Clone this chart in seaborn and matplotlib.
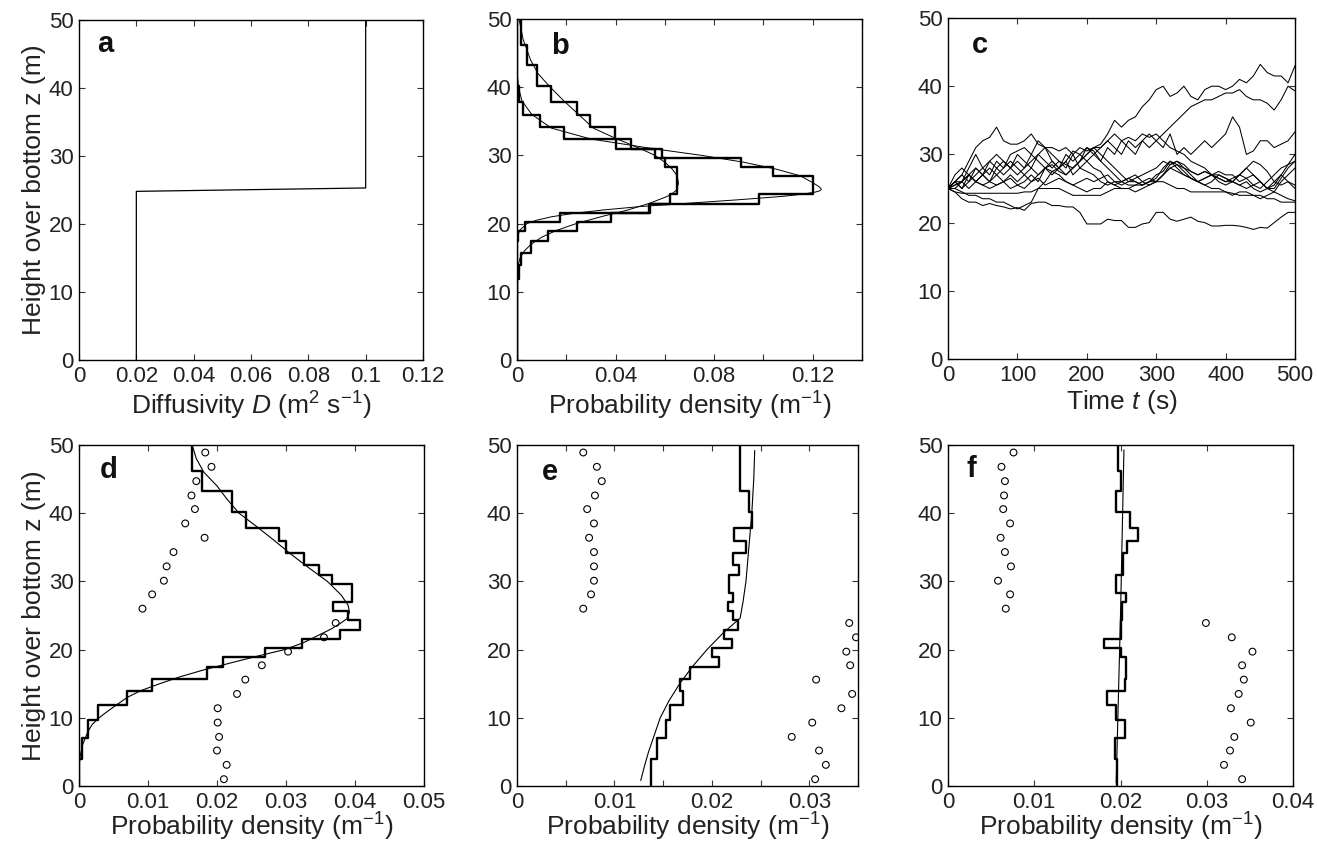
import numpy as np
import pandas as pd
import seaborn as sns
import matplotlib
matplotlib.use('Agg')
import matplotlib.pyplot as plt
from matplotlib.ticker import FuncFormatter, MultipleLocator

# ---------------- data ----------------
# panel a: diffusivity profile
diff_D = [0.02, 0.02, 0.1, 0.1]
diff_z = [0.0, 24.8, 25.3, 50.0]

# histogram bin edges (m), shared by b, d, e, f
hist_edges = [0, 4.0, 7.0, 9.7, 11.9, 13.9, 15.7, 17.4, 18.9, 20.2, 21.6, 22.9, 24.3,
              25.6, 27.0, 28.3, 29.6, 31.0, 32.4, 34.1, 35.9, 37.9, 40.2, 43.2, 46.2, 50]

# panel b: two histograms + model curves
b_hist_narrow = [0, 0, 0, 0, 0, 0, 0, 0.0005, 0.0034, 0.0173, 0.054, 0.0983, 0.12,
                 0.12, 0.104, 0.091, 0.059, 0.040, 0.019, 0.0092, 0.0024, 0.0007, 0.0002, 0, 0]
b_hist_broad = [0, 0, 0, 0.0002, 0.0007, 0.0018, 0.0055, 0.0126, 0.0244, 0.038, 0.0537, 0.062,
                0.065, 0.065, 0.065, 0.060, 0.056, 0.0464, 0.0396, 0.0295, 0.0245, 0.0137,
                0.0083, 0.0042, 0.0017]
b_curve_narrow_z = [0, 16, 18, 19, 20, 20.5, 21, 21.5, 22, 22.5, 23, 23.5, 24, 24.3, 24.6,
                    24.8, 25.0, 25.2, 25.5, 26, 27, 28, 29, 30, 31, 32.4, 34, 36, 38, 40, 42, 50]
b_curve_narrow_x = [0, 0, 0.0003, 0.001, 0.004, 0.008, 0.014, 0.023, 0.035, 0.05, 0.07, 0.09,
                    0.108, 0.1155, 0.1208, 0.1228, 0.1235, 0.1232, 0.1222, 0.120, 0.115, 0.105,
                    0.092, 0.075, 0.055, 0.03, 0.014, 0.006, 0.002, 0.0006, 0.0001, 0]
b_curve_broad_z = [0, 10, 12, 14, 15, 16, 17, 18, 19, 20, 21, 22, 23, 24, 24.4, 25, 26, 27, 28,
                   29, 30, 31, 32.5, 34, 36, 38, 40, 42, 44, 47, 50]
b_curve_broad_x = [0, 0, 0.0001, 0.0005, 0.0013, 0.003, 0.0058, 0.010, 0.016, 0.024, 0.034,
                   0.045, 0.054, 0.061, 0.063, 0.065, 0.0655, 0.065, 0.063, 0.060, 0.056, 0.050,
                   0.040, 0.031, 0.025, 0.019, 0.0135, 0.0085, 0.0055, 0.0025, 0.0008]

# panel c: particle trajectories, height (m) every 10 s
time_s = list(range(0, 501, 10))
traj = {
    1: [25, 25.5, 26, 27, 26, 27, 28, 27, 26, 27, 26, 27, 28, 27, 28, 29, 28, 27, 28, 29, 30,
        31, 31.5, 33, 35, 34, 35, 35.5, 37, 38, 39.5,
        40, 38.5, 39, 40, 38.5, 38, 39.5, 40, 40, 39.5,
        40, 41, 40.5, 41.5, 43.2, 42, 41.5, 41.5, 40.5, 43],
    2: [25, 26, 27, 26, 28, 27, 29, 28, 27, 28, 29, 28, 30, 29, 28, 27, 28, 29, 27, 28, 29,
        30, 29, 31, 30, 32, 31, 30, 32, 31, 32,
        33, 34, 35, 36, 37, 37.5, 38, 38, 38.5, 39,
        39, 39.5, 38.5, 38, 38, 37.5, 36.5, 38, 40, 39.3],
    3: [25, 26, 25, 27, 28, 27, 26, 28, 29, 28, 30, 29, 28, 30, 31, 29, 28, 30, 29, 30, 31,
        30, 31, 32, 31, 30, 32, 31, 32, 33, 32,
        31, 33, 30, 31, 30, 31, 32, 31, 32, 33,
        35.5, 34, 30, 30.5, 32, 32, 31, 31.5, 32, 33.3],
    4: [25, 24.5, 23.5, 23, 23, 22.5, 22.8, 22.5, 22.3, 22, 22.2, 21.8, 22.8, 23, 23, 22.5,
        22.5, 22.3, 22.3, 21.5, 19.8,
        19.8, 19.8, 20.5, 20.3, 20.3, 19.3, 19.3, 19.8, 20, 21.5,
        21.5, 20.5, 20.2, 20.5, 20.8, 20.2, 20, 19.5, 19.5, 19.6,
        19.6, 19.5, 19.3, 19, 19.3, 19.2, 20, 20.8, 21.5, 21.5],
    5: [25, 24.5, 24.3, 24.3, 24.3, 24.3, 24.3, 24.3, 24.3, 24.3, 24.3, 24.5, 24.5, 25, 25, 25,
        25, 24.5, 24, 24, 24,
        24, 24, 24.5, 25, 25, 25, 25.5, 25.5, 26, 26,
        26, 25.5, 25, 25, 24.5, 24.5, 24.5, 24.5, 24.5, 24.5,
        24.3, 24, 24, 24, 24, 23.5, 23.5, 23, 23, 23],
    6: [25, 26, 27, 29, 31, 32, 32.5, 34, 32, 31.5, 31.5, 32, 33, 31.5, 31, 31, 30.5, 31, 30,
        28, 27.5,
        27, 26, 25.5, 26, 26, 25.5, 25.5, 26, 26.5, 26,
        27, 28, 27.5, 27, 26.5, 26, 26.5, 27, 27, 26.5,
        26, 27, 26.5, 25.5, 25, 26, 27, 28, 28.5, 30],
    7: [25, 26, 26, 28, 30, 28, 27, 29, 28, 30, 30.5, 31, 30, 32, 31, 30, 29, 28, 30, 31, 30.5,
        31, 31, 32, 33, 32, 32.5, 32, 33, 32.5, 33,
        32, 31, 30.5, 30, 29, 28.5, 28, 27, 27.5, 27,
        27, 26, 26.5, 27, 26, 25, 25.5, 27, 28.5, 29],
    8: [25, 25.5, 26, 25, 26, 27, 26, 25.5, 26, 25, 25.5, 26, 27, 26, 28, 27.5, 27, 26, 25.5,
        25, 24.5,
        25, 25, 26, 25.5, 26, 26.5, 27, 26, 25.5, 26,
        27, 28, 28.5, 28, 27, 26, 26.5, 27, 26, 25.5,
        26, 27, 28, 27, 26, 25, 24.5, 26, 27, 28],
    9: [25, 27, 28, 27, 26, 25.5, 26, 27, 28, 29, 28, 27, 26, 27, 28, 28.5, 27.5, 27, 28, 29, 31,
        30.5, 29, 28, 27, 26, 26.5, 26, 25.5, 26, 26.5,
        28, 29, 28.5, 27.5, 26.5, 26, 25.5, 25, 25, 24.5,
        24, 24.5, 24.5, 24, 23.5, 24, 24.5, 24, 23.5, 23.2],
    10: [25, 26, 25, 26, 27, 28, 29, 30, 29, 28, 27, 28, 29, 30, 29, 28, 29, 28.5, 28, 29, 30,
         31, 30, 29, 28, 27, 26, 26.5, 27, 27.5, 28,
         29, 28.5, 29, 28, 27.5, 27, 27.5, 27, 26.5, 26,
         26.5, 27, 28, 29, 28.5, 27.5, 26, 25.5, 26, 25.5],
    11: [25, 25, 26, 27, 26, 25.5, 25, 25.5, 26, 26.5, 25.5, 25, 26, 26.5, 25.5, 26, 26.5, 26,
         25.5, 26, 26.5,
         26, 26.5, 27, 26, 25.5, 26, 26, 25.5, 26, 27,
         27.5, 29, 28, 27, 26.5, 26, 25.5, 26, 27, 26.5,
         26, 25.5, 26, 25, 24.5, 25, 26, 27, 26, 25],
    12: [25, 25, 24.5, 24, 24, 23.5, 23.5, 23, 23, 22.5, 22, 22.5, 23, 25, 26, 27.5, 28, 29,
         30.5, 30, 29,
         28, 27.5, 26, 25.5, 25, 25, 24.5, 25, 25.5, 26,
         27, 28.5, 29, 28.5, 27.5, 27, 27.5, 27, 26.5, 26,
         26, 25.5, 25, 25.5, 26, 25, 25, 26.5, 28, 29],
}

# panel d
d_hist = [0.0, 0.0004, 0.00135, 0.0028, 0.0070, 0.0106, 0.0186, 0.0209, 0.0270, 0.0323,
          0.0378, 0.0407, 0.0390, 0.0368, 0.0395, 0.0395, 0.0366, 0.0348, 0.0326, 0.0300,
          0.0290, 0.0242, 0.0222, 0.0178, 0.0164]
d_curve_z = [0, 2, 4, 5, 6, 7, 8, 9, 10, 11, 12, 13, 14, 15, 16, 17, 18, 19, 20, 21, 22, 23,
             23.8, 24.5, 25.5, 26.5, 28, 30, 32, 34, 36, 38, 40, 42, 44, 46, 48, 50]
d_curve_x = [0, 0, 0.0001, 0.0003, 0.0005, 0.0009, 0.0013, 0.0019, 0.0029, 0.0042, 0.0056,
             0.0070, 0.0090, 0.0117, 0.0146, 0.0180, 0.0218, 0.0257, 0.0298, 0.0325, 0.0345,
             0.0365, 0.0378, 0.0388, 0.0392, 0.0390, 0.0380, 0.0360, 0.0333, 0.0307, 0.0283,
             0.0258, 0.0232, 0.0215, 0.0200, 0.0181, 0.0170, 0.0164]

# circle heights (m) shared by d, e, f
circ_z = [1.0, 3.1, 5.2, 7.2, 9.3, 11.4, 13.5, 15.6, 17.7, 19.7, 21.8, 23.9,
          26.0, 28.1, 30.1, 32.2, 34.3, 36.4, 38.5, 40.6, 42.6, 44.7, 46.8, 48.9]
d_circ = [0.0210, 0.0214, 0.0200, 0.0203, 0.0201, 0.0201, 0.0229, 0.0241, 0.0265, 0.0303,
          0.0355, 0.0372, 0.0092, 0.0106, 0.0123, 0.0127, 0.0137, 0.0182, 0.0154, 0.0168,
          0.0163, 0.0170, 0.0192, 0.0183]

# panel e
e_hist = [0.01373, 0.01441, 0.0153, 0.01571, 0.0170, 0.01673, 0.01776, 0.02069, 0.01998,
          0.02202, 0.02124, 0.02264, 0.0222, 0.02168, 0.0222, 0.02179, 0.02179, 0.02278,
          0.02213, 0.0235, 0.0223, 0.02407, 0.02383, 0.02288, 0.02288]
e_curve_z = [0.8, 3, 5, 7.5, 10, 12.5, 15, 17.5, 20, 22.5, 24.6, 27, 30, 35, 40, 45, 49.2]
e_curve_x = [0.0127, 0.0131, 0.0135, 0.0141, 0.0147, 0.0156, 0.0167, 0.0180, 0.0195, 0.0212,
             0.0229, 0.0232, 0.0235, 0.0238, 0.0241, 0.0243, 0.0244]
e_circ = [0.0306, 0.0317, 0.0310, 0.0282, 0.0303, 0.0333, 0.0344, 0.0307, 0.0342, 0.0338,
          0.0348, 0.0341, 0.0068, 0.0076, 0.0079, 0.0079, 0.0079, 0.0074, 0.0079, 0.0072,
          0.0080, 0.0087, 0.0082, 0.0068]

# panel f
f_hist = [0.0196, 0.0194, 0.02048, 0.01948, 0.01843, 0.02056, 0.02064, 0.02064, 0.0201,
          0.01805, 0.0201, 0.0201, 0.0202, 0.0202, 0.02068, 0.01952, 0.01952, 0.02025,
          0.02025, 0.02075, 0.02207, 0.02114, 0.01944, 0.0200, 0.01967]
f_curve_z = [0.5, 25, 49.3]
f_curve_x = [0.0195, 0.0200, 0.0204]
f_circ = [0.0341, 0.0320, 0.0327, 0.0332, 0.0351, 0.0328, 0.0337, 0.0343, 0.0341, 0.0353,
          0.0329, 0.0299, 0.0067, 0.0072, 0.0058, 0.0073, 0.0066, 0.0061, 0.0072, 0.0064,
          0.0065, 0.0066, 0.0062, 0.0076]

# ---------------- style ----------------
sns.set_style('ticks')
plt.rcParams['font.family'] = ['Liberation Sans', 'DejaVu Sans']
plt.rcParams['mathtext.fontset'] = 'custom'
plt.rcParams['mathtext.rm'] = 'Liberation Sans'
plt.rcParams['mathtext.it'] = 'Liberation Sans:italic'
plt.rcParams['axes.linewidth'] = 1.0
plt.rcParams['axes.edgecolor'] = 'black'

fig = plt.figure(figsize=(13.17, 8.44), dpi=100)
W, H = 1317, 844


def add_ax(l, r, t, b):
    return fig.add_axes([l / W, (H - b) / H, (r - l) / W, (b - t) / H])


ax_a = add_ax(79, 423, 20, 360)
ax_b = add_ax(517, 862, 19, 360)
ax_c = add_ax(948, 1295, 18, 359)
ax_d = add_ax(79, 424, 445, 786)
ax_e = add_ax(517, 858, 445, 786)
ax_f = add_ax(948, 1293, 445, 786)

gfmt = FuncFormatter(lambda v, p: '%g' % round(v, 6))
dens_label = 'Probability density (m$^{\u22121}$)'


def style(ax, xmax, major, minor=None, xlabel=dens_label, ylabel=None, letter='', lx=0.06,
          ly=0.9, xpad=2):
    ax.set_xlim(0, xmax)
    ax.set_ylim(0, 50)
    ax.yaxis.set_major_locator(MultipleLocator(10))
    ax.xaxis.set_major_locator(MultipleLocator(major))
    if minor:
        ax.xaxis.set_minor_locator(MultipleLocator(minor))
    ax.xaxis.set_major_formatter(gfmt)
    for which in ('major', 'minor'):
        ax.tick_params(which=which, direction='in', top=True, right=True,
                       length=4, width=0.8, color='#333333')
    ax.tick_params(labelsize=16, pad=4, labelcolor='#222222')
    ax.set_xlabel(xlabel, fontsize=19, labelpad=xpad, color='#222222')
    ax.set_ylabel(ylabel if ylabel else '', fontsize=19, labelpad=2, color='#222222')
    ax.text(lx, ly, letter, transform=ax.transAxes, fontsize=21, fontweight='bold',
            va='baseline', ha='left', color='#111111')


def hist(ax, vals, lw=1.7):
    centers = [(hist_edges[i] + hist_edges[i + 1]) / 2 for i in range(len(vals))]
    sns.histplot(y=centers, weights=vals, bins=hist_edges, element='step', fill=False,
                 stat='count', color='black', linewidth=lw, ax=ax)


def curve(ax, x, z, lw=0.8):
    sns.lineplot(x=x, y=z, sort=False, estimator=None, orient='y', color='black',
                 linewidth=lw, ax=ax)


def circles(ax, x):
    sns.scatterplot(x=x, y=circ_z, marker='o', s=24, facecolor='none', edgecolor='black',
                    linewidth=0.8, ax=ax)


# a
curve(ax_a, diff_D, diff_z, lw=0.9)
style(ax_a, 0.12, 0.02, xlabel='Diffusivity $D$ (m$^{2}$ s$^{\u22121}$)',
      ylabel='Height over bottom z (m)', letter='a', lx=0.052, ly=0.907)

# b
hist(ax_b, b_hist_broad)
hist(ax_b, b_hist_narrow)
curve(ax_b, b_curve_broad_x, b_curve_broad_z, lw=0.7)
curve(ax_b, b_curve_narrow_x, b_curve_narrow_z, lw=0.7)
style(ax_b, 0.14, 0.04, 0.02, letter='b', lx=0.10, ly=0.896)

# c
traj_df = pd.DataFrame([(k, t, z) for k, zs in traj.items() for t, z in zip(time_s, zs)],
                       columns=['particle', 'time', 'z'])
sns.lineplot(data=traj_df, x='time', y='z', units='particle', estimator=None,
             color='black', linewidth=0.75, ax=ax_c)
style(ax_c, 500, 100, xlabel='Time $t$ (s)', letter='c', lx=0.069, ly=0.896)

# d
hist(ax_d, d_hist)
curve(ax_d, d_curve_x, d_curve_z)
circles(ax_d, d_circ)
style(ax_d, 0.05, 0.01, ylabel='Height over bottom z (m)', letter='d', lx=0.061, ly=0.902,
      xpad=-1)

# e
hist(ax_e, e_hist)
curve(ax_e, e_curve_x, e_curve_z)
circles(ax_e, e_circ)
style(ax_e, 0.035, 0.01, 0.005, letter='e', lx=0.072, ly=0.897, xpad=-1)

# f
hist(ax_f, f_hist)
curve(ax_f, f_curve_x, f_curve_z)
circles(ax_f, f_circ)
style(ax_f, 0.04, 0.01, letter='f', lx=0.055, ly=0.907, xpad=-1)

for ax in (ax_b, ax_c, ax_e, ax_f):
    ax.set_ylabel('')

fig.savefig('out.png', dpi=100)
